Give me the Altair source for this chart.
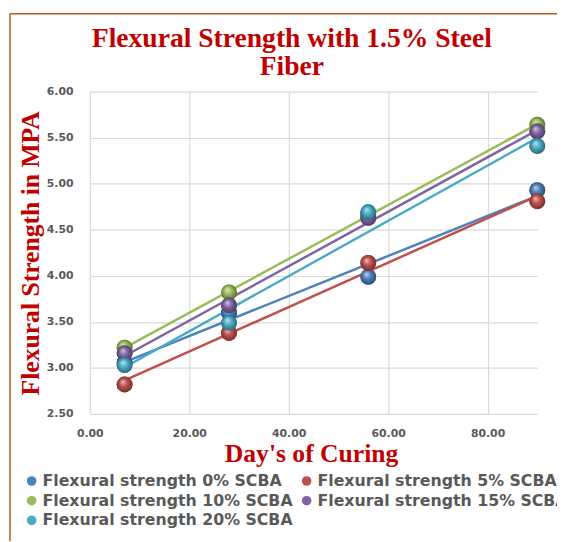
import altair as alt
import pandas as pd

days = [7, 28, 56, 90]
series_names = [
    "Flexural strength 0% SCBA",
    "Flexural strength 5% SCBA",
    "Flexural strength 10% SCBA",
    "Flexural strength 15% SCBA",
    "Flexural strength 20% SCBA",
]
fs_0 = [3.06, 3.60, 3.99, 4.93]
fs_5 = [2.82, 3.38, 4.14, 4.81]
fs_10 = [3.22, 3.82, 4.67, 5.64]
fs_15 = [3.16, 3.68, 4.63, 5.57]
fs_20 = [3.03, 3.49, 4.69, 5.41]
colors = ["#4F81BD", "#C0504D", "#9BBB59", "#8064A2", "#4BACC6"]
x_ticks = [0, 20, 40, 60, 80]
y_ticks = [2.5, 3.0, 3.5, 4.0, 4.5, 5.0, 5.5, 6.0]

rows = []
for name, vals in zip(series_names, [fs_0, fs_5, fs_10, fs_15, fs_20]):
    for d, v in zip(days, vals):
        rows.append({"day": d, "strength": v, "series": name})
df = pd.DataFrame(rows)


def mix(hexc, other, t):
    a = [int(hexc[i:i + 2], 16) for i in (1, 3, 5)]
    b = [int(other[i:i + 2], 16) for i in (1, 3, 5)]
    c = [round(a[k] * (1 - t) + b[k] * t) for k in range(3)]
    return "#%02x%02x%02x" % tuple(c)


label_style = dict(labelFont="DejaVu Sans", labelFontWeight="bold", labelFontSize=11,
                   labelColor="#595959", ticks=False, domain=False, labelFlush=False,
                   gridColor="#D9D9D9", gridWidth=1.2)

x = alt.X("day:Q", scale=alt.Scale(domain=[0, 90], nice=False),
          axis=alt.Axis(values=x_ticks, format=".2f", title="Day's of Curing",
                        titleFont="Liberation Serif", titleFontSize=26, titleFontWeight="bold",
                        titleColor="#C00000", titleX=224.5, titleY=48, titleAnchor="middle",
                        titleAlign="center", titleBaseline="alphabetic",
                        labelPadding=14, **label_style))
y = alt.Y("strength:Q", scale=alt.Scale(domain=[2.5, 6.0], nice=False, zero=False),
          axis=alt.Axis(values=y_ticks, format=".2f", title="Flexural Strength in MPA",
                        titleFont="Liberation Serif", titleFontSize=26, titleFontWeight="bold",
                        titleColor="#C00000", titleX=-52, titleY=163.5, titleAngle=-90,
                        titleAlign="center", titleBaseline="alphabetic",
                        labelPadding=17, **label_style))

color_enc = alt.Color(
    "series:N", scale=alt.Scale(domain=series_names, range=colors),
    legend=alt.Legend(orient="none", legendX=-67, legendY=387, columns=2,
                      direction="horizontal",
                      title=None, labelFont="DejaVu Sans", labelFontWeight="bold",
                      labelFontSize=16, labelColor="#595959", symbolType="circle",
                      symbolSize=95, labelOffset=3, columnPadding=6, rowPadding=4,
                      symbolStrokeWidth=0, padding=0, labelLimit=400,
                      symbolOpacity=1))

trend = alt.Chart(df).transform_regression(
    "day", "strength", groupby=["series"], extent=[7, 90]
).mark_line(strokeWidth=2.5).encode(x=x, y=y, color=color_enc)

points = alt.Chart(df).mark_circle(size=260, opacity=1).encode(x=x, y=y, color=color_enc)

spheres = []
for name, col in zip(series_names, colors):
    grad = alt.RadialGradient(
        gradient="radial",
        x1=0.38, y1=0.32, r1=0.0, x2=0.5, y2=0.5, r2=0.55,
        stops=[
            alt.GradientStop(color=mix(col, "#ffffff", 0.65), offset=0),
            alt.GradientStop(color=col, offset=0.45),
            alt.GradientStop(color=mix(col, "#000000", 0.45), offset=1),
        ],
    )
    spheres.append(
        alt.Chart(df).transform_filter(alt.datum.series == name)
        .mark_circle(size=260, opacity=1, fill=grad).encode(x=x, y=y)
    )

frame_df = pd.DataFrame({"k": [0]})
frame_left = alt.Chart(frame_df).mark_rule(color="#B85C1E", strokeWidth=1.5).encode(
    x=alt.value(-81), y=alt.value(-79), y2=alt.value(470))
frame_top = alt.Chart(frame_df).mark_rule(color="#B85C1E", strokeWidth=1.5).encode(
    x=alt.value(-81), x2=alt.value(480), y=alt.value(-79))

chart = alt.layer(trend, points, *spheres, frame_left, frame_top).properties(
    width=454, height=327,
    autosize="none",
    padding={"left": 83, "top": 81, "right": 20, "bottom": 125},
    title=alt.TitleParams(
        text=["Flexural Strength with 1.5% Steel", "Fiber"],
        font="Liberation Serif", fontSize=28, fontWeight="bold", color="#C00000",
        anchor="middle", dx=-22, offset=0, dy=69, lineHeight=29, baseline="top",
    ),
).configure_view(strokeWidth=0)

chart.save("out.html", embed_options={"renderer": "svg", "actions": False})
